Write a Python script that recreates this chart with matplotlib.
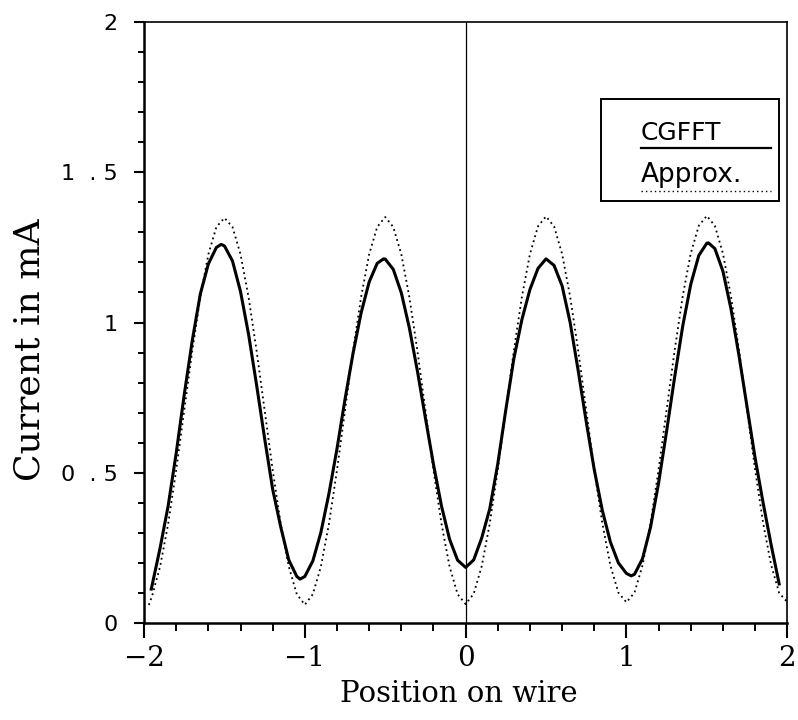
import matplotlib
matplotlib.use('Agg')
import matplotlib.pyplot as plt
from matplotlib.ticker import MultipleLocator
from matplotlib.patches import Rectangle

# current along the wire, CGFFT solution (mA)
x_cgfft = [-1.955, -1.90, -1.85, -1.80, -1.75, -1.70, -1.65, -1.60, -1.55, -1.52,
           -1.50, -1.45, -1.40, -1.35, -1.30, -1.25, -1.20, -1.15, -1.10, -1.05,
           -1.03, -1.00, -0.95, -0.90, -0.85, -0.80, -0.75, -0.70, -0.65, -0.60,
           -0.55, -0.51, -0.50, -0.45, -0.40, -0.35, -0.30, -0.25, -0.20, -0.15,
           -0.10, -0.05, 0.00, 0.05, 0.10, 0.15, 0.20, 0.25, 0.30, 0.35,
           0.40, 0.45, 0.50, 0.55, 0.60, 0.65, 0.70, 0.75, 0.80, 0.85,
           0.90, 0.95, 1.00, 1.03, 1.05, 1.10, 1.15, 1.20, 1.25, 1.30,
           1.35, 1.40, 1.45, 1.50, 1.51, 1.55, 1.60, 1.65, 1.70, 1.75,
           1.80, 1.85, 1.90, 1.95]
i_cgfft = [0.113, 0.25, 0.39, 0.565, 0.76, 0.94, 1.095, 1.195, 1.25, 1.26,
           1.255, 1.205, 1.103, 0.961, 0.792, 0.614, 0.445, 0.32, 0.21, 0.155,
           0.146, 0.155, 0.207, 0.302, 0.431, 0.58, 0.745, 0.898, 1.032, 1.135,
           1.197, 1.212, 1.211, 1.177, 1.099, 0.982, 0.839, 0.682, 0.528, 0.389,
           0.279, 0.209, 0.185, 0.210, 0.283, 0.38, 0.53, 0.71, 0.88, 1.01,
           1.11, 1.18, 1.212, 1.19, 1.122, 1.00, 0.84, 0.67, 0.51, 0.375,
           0.27, 0.20, 0.165, 0.157, 0.162, 0.214, 0.319, 0.466, 0.639, 0.819,
           0.988, 1.127, 1.223, 1.264, 1.265, 1.246, 1.171, 1.046, 0.89, 0.72,
           0.55, 0.40, 0.26, 0.13]

# approximate solution (mA)
x_approx = [-1.97, -1.95, -1.90, -1.85, -1.80, -1.75, -1.70, -1.65, -1.60, -1.55,
            -1.50, -1.45, -1.40, -1.35, -1.30, -1.25, -1.20, -1.15, -1.10, -1.05,
            -1.00, -0.95, -0.90, -0.85, -0.80, -0.75, -0.70, -0.65, -0.60, -0.55,
            -0.50, -0.45, -0.40, -0.35, -0.30, -0.25, -0.20, -0.15, -0.10, -0.05,
            0.00, 0.05, 0.10, 0.15, 0.20, 0.25, 0.30, 0.35, 0.40, 0.45,
            0.50, 0.55, 0.60, 0.65, 0.70, 0.75, 0.80, 0.85, 0.90, 0.95,
            1.00, 1.05, 1.10, 1.15, 1.20, 1.25, 1.30, 1.35, 1.40, 1.45,
            1.50, 1.55, 1.60, 1.65, 1.70, 1.75, 1.80, 1.85, 1.90, 1.95,
            2.00]
i_approx = [0.06, 0.09, 0.188, 0.330, 0.509, 0.708, 0.906, 1.085, 1.227, 1.318,
            1.348, 1.318, 1.227, 1.085, 0.906, 0.708, 0.509, 0.330, 0.188, 0.096,
            0.061, 0.096, 0.188, 0.330, 0.509, 0.708, 0.906, 1.085, 1.227, 1.318,
            1.351, 1.318, 1.227, 1.085, 0.906, 0.708, 0.509, 0.330, 0.188, 0.096,
            0.063, 0.097, 0.189, 0.331, 0.510, 0.709, 0.907, 1.086, 1.228, 1.320,
            1.353, 1.320, 1.228, 1.086, 0.907, 0.709, 0.510, 0.332, 0.192, 0.101,
            0.069, 0.101, 0.192, 0.332, 0.511, 0.710, 0.908, 1.088, 1.230, 1.322,
            1.355, 1.322, 1.230, 1.088, 0.908, 0.710, 0.511, 0.333, 0.193, 0.10,
            0.07]

x_ticks = [-2, -1, 0, 1, 2]
x_ticklabels = ['\u22122', '\u22121', '0', '1', '2']
y_ticks = [0, 0.5, 1, 1.5, 2]
y_ticklabels = ['0', '0  . 5', '1', '1  . 5', '2']

fig = plt.figure(figsize=(7.98, 7.2), dpi=100)
ax = fig.add_axes([0.1805, 0.1347, 0.806, 0.8347])

ax.plot(x_cgfft, i_cgfft, color='black', lw=2.2, solid_joinstyle='round')
ax.plot(x_approx, i_approx, color='black', lw=1.3, linestyle=(0, (1, 1.9)))
ax.axvline(0, color='black', lw=0.9)

ax.set_xlim(-2, 2)
ax.set_ylim(0, 2)

ax.set_xticks(x_ticks)
ax.set_xticklabels(x_ticklabels, fontfamily='DejaVu Serif', fontsize=20)
ax.set_yticks(y_ticks)
ax.set_yticklabels(y_ticklabels, fontfamily='DejaVu Sans', fontsize=16)
ax.xaxis.set_minor_locator(MultipleLocator(0.2))
ax.yaxis.set_minor_locator(MultipleLocator(0.1))
ax.tick_params(axis='x', which='major', direction='out', length=11, width=1.5, pad=5)
ax.tick_params(axis='x', which='minor', direction='out', length=6, width=1.4)
ax.tick_params(axis='y', which='major', direction='out', length=7, width=1.5, pad=12)
ax.tick_params(axis='y', which='minor', direction='out', length=4.5, width=1.4)

for side in ['left', 'bottom']:
    ax.spines[side].set_linewidth(1.8)
for side in ['top', 'right']:
    ax.spines[side].set_linewidth(1.2)

ax.set_xlabel('Position on wire', fontfamily='DejaVu Serif', fontsize=21)
ax.xaxis.set_label_coords(0.49, -0.095)
ax.set_ylabel('Current in mA', fontfamily='DejaVu Serif', fontsize=26)
ax.yaxis.set_label_coords(-0.151, 0.455)

# key box in the upper right corner
ax.add_patch(Rectangle((0.711, 0.702), 0.276, 0.170, transform=ax.transAxes,
                       fill=False, lw=1.4, color='black'))
ax.text(0.772, 0.804, 'CGFFT', transform=ax.transAxes, fontsize=18,
        fontfamily='DejaVu Sans', va='baseline')
ax.plot([0.772, 0.974], [0.790, 0.790], transform=ax.transAxes,
        color='black', lw=1.6)
ax.text(0.772, 0.734, 'Approx.', transform=ax.transAxes, fontsize=19,
        fontfamily='DejaVu Sans', va='baseline')
ax.plot([0.772, 0.974], [0.719, 0.719], transform=ax.transAxes,
        color='black', lw=1.0, linestyle=(0, (1, 2.2)))

fig.savefig('out.png', dpi=100)
